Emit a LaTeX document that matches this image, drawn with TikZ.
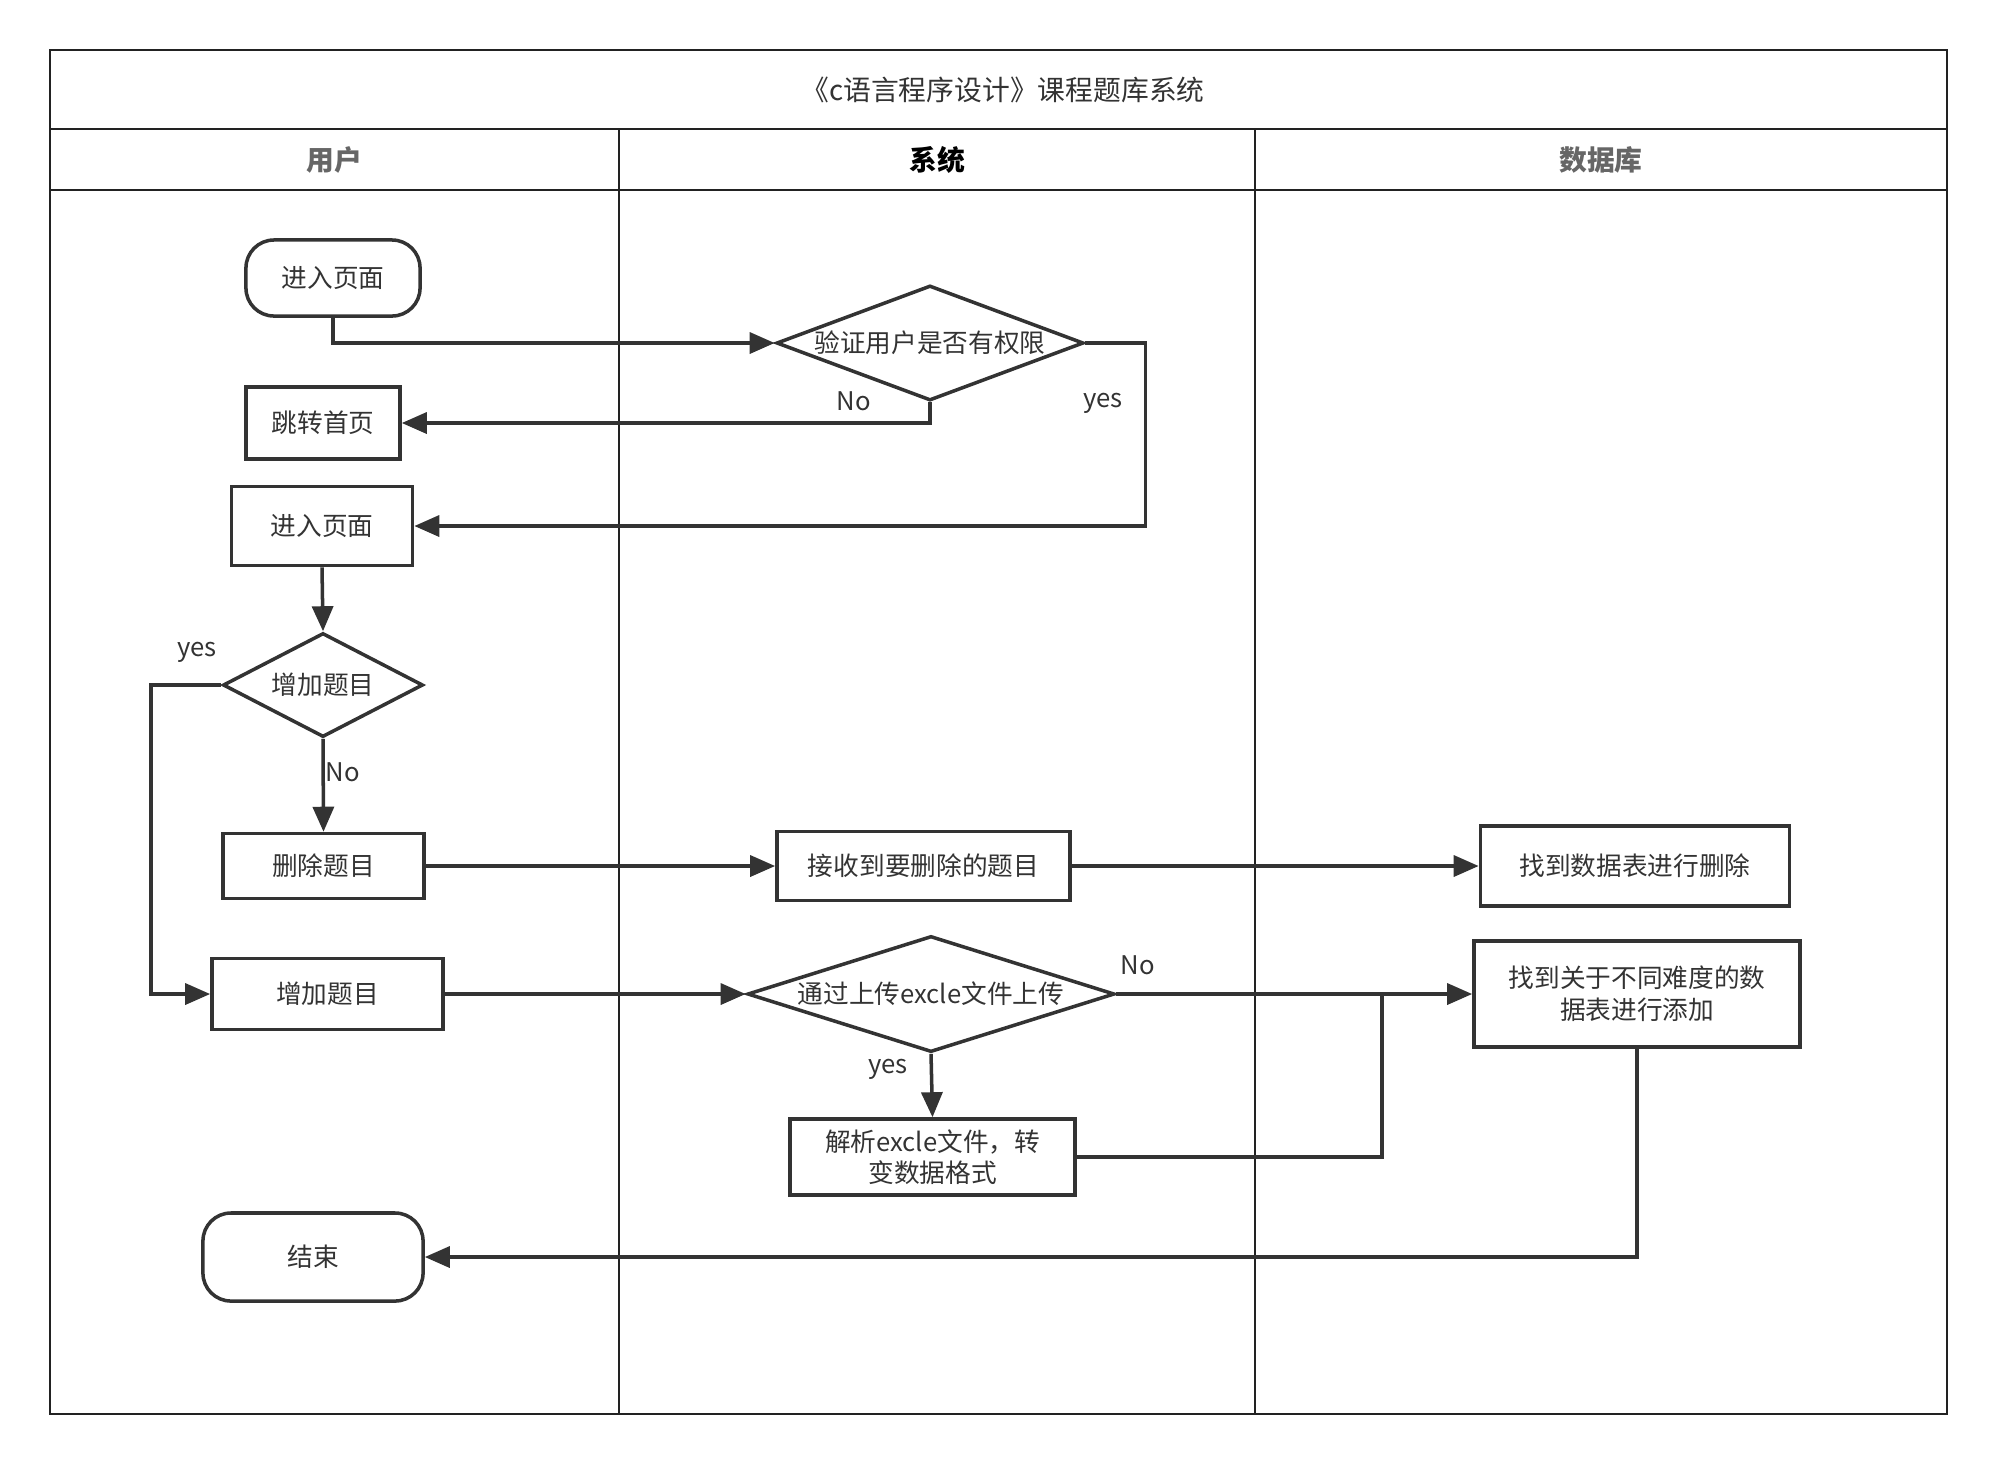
\documentclass[tikz,border=0pt]{standalone}
\usepackage{fontspec}
\setmainfont{Noto Sans CJK SC}
\usetikzlibrary{arrows.meta, positioning, shapes.geometric}
\definecolor{ink}{HTML}{333333}
\definecolor{rule}{HTML}{222222}
\newcommand{\ctext}[1]{\makebox[0pt]{#1}}
\tikzset{
    every node/.style={font=\fontsize{7.3}{9}\selectfont, text=ink},
    frame/.style={draw=rule, line width=0.6pt},
    head/.style={font=\fontsize{7.9}{9}\selectfont\bfseries},
    process/.style={draw=ink, line width=1pt, rectangle, inner sep=0pt, align=center},
    terminal/.style={process, rounded corners=0.28cm},
    decision/.style={draw=ink, line width=1pt, diamond, inner sep=0pt},
    flow/.style={draw=ink, line width=1pt, -{Triangle[length=0.25cm, width=0.21cm]}},
    link/.style={draw=ink, line width=1pt},
    lbl/.style={inner sep=0pt}
}

\begin{document}
\begin{tikzpicture}[x=0.01cm, y=-0.01cm]
    \useasboundingbox (0,0) rectangle (1998,1466);
    % pool and lanes
    \draw[frame] (50,50) rectangle (1947,1414);
    \foreach \y in {129,190}{
    \draw[frame] (50,\y) -- (1947,\y);}
    \foreach \x in {619,1255}{
    \draw[frame] (\x,129) -- (\x,1414);}
    \node[font=\fontsize{7.9}{9}\selectfont] (title) at (1003,90) {《c语言程序设计》课程题库系统};
    \node[head, text=black!60] (laneA) at (334.5,160) {用户};
    \node[head, text=black] (laneB) at (937,160) {系统};
    \node[head, text=black!60] (laneC) at (1601,160) {数据库};

    % user lane
    \node[terminal, minimum width=1.74cm, minimum height=0.76cm] (start) at (333,278) {进入页面};
    \node[process, minimum width=1.54cm, minimum height=0.72cm] (jump) at (323,423) {跳转首页};
    \node[process, minimum width=1.81cm, minimum height=0.79cm] (enter) at (322,526) {进入页面};
    \node[decision, minimum width=2.0cm, minimum height=1.04cm] (ask) at (323,685) {\ctext{增加题目}};
    \node[process, minimum width=2.01cm, minimum height=0.65cm] (del) at (323.5,866) {删除题目};
    \node[process, minimum width=2.31cm, minimum height=0.71cm] (add) at (327.5,994) {增加题目};
    \node[terminal, minimum width=2.20cm, minimum height=0.88cm] (end) at (313,1257) {结束};

    % system lane
    \node[decision, minimum width=3.07cm, minimum height=1.15cm] (verify) at (930,343) {\ctext{验证用户是否有权限}};
    \node[process, minimum width=2.93cm, minimum height=0.69cm] (recv) at (923.5,866) {接收到要删除的题目};
    \node[decision, minimum width=3.67cm, minimum height=1.16cm] (upload) at (931,994) {\ctext{通过上传excle文件上传}};
    \node[process, minimum width=2.85cm, minimum height=0.76cm] (parse) at (932.5,1157) {解析excle文件，转\\变数据格式};

    % database lane
    \node[process, minimum width=3.09cm, minimum height=0.80cm] (find) at (1635,866) {找到数据表进行删除};
    \node[process, minimum width=3.26cm, minimum height=1.06cm] (addDb) at (1637,994) {找到关于不同难度的数\\据表进行添加};
    \coordinate (merge) at (1382,994);

    \draw[flow] (start.south) |- (verify.west);
    \draw[flow] (verify.south) |- (jump.east);
    \draw[flow] (verify.east) -- ++(60,0) |- (enter.east);
    \draw[flow] (enter.south) -- (ask.north);
    \draw[flow] (ask.south) -- (del.north);
    \draw[flow] (ask.west) -- ++(-70,0) |- (add.west);
    \draw[flow] (del.east) -- (recv.west);
    \draw[flow] (recv.east) -- (find.west);
    \draw[flow] (add.east) -- (upload.west);
    \draw[flow] (upload.east) -- (addDb.west);
    \draw[flow] (upload.south) -- (parse.north);
    \draw[link] (parse.east) -| (merge);
    \draw[flow] (addDb.south) |- (end.east);

    \node[lbl] (noA) at (854,401) {No};
    \node[lbl] (yesA) at (1103,403) {yes};
    \node[lbl] (yesB) at (197,652) {yes};
    \node[lbl] (noB) at (343,772) {No};
    \node[lbl] (noC) at (1138,965) {No};
    \node[lbl] (yesC) at (888,1069) {yes};
\end{tikzpicture}
\end{document}
